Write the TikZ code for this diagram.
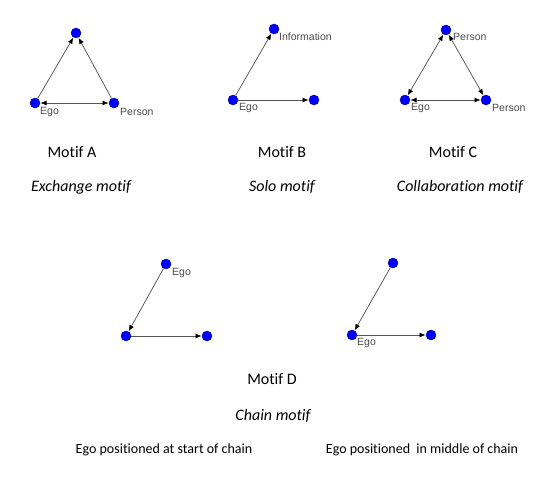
\documentclass[tikz,border=0pt]{standalone}
\usepackage{fontspec}
\setmainfont{Carlito}[Ligatures={NoCommon}]
\newfontfamily\lblfont{Liberation Sans}
\usetikzlibrary{arrows.meta}
\definecolor{nodeblue}{RGB}{0,0,255}
\definecolor{nodeedge}{RGB}{0,0,140}
\definecolor{edgegray}{RGB}{85,85,85}
\definecolor{lblgray}{RGB}{75,75,75}
\tikzset{
  tip/.style={Latex[length=6pt,width=5pt,black]},
  vtx/.style={circle,fill=nodeblue,draw=nodeedge,line width=0.4pt,minimum size=10pt,inner sep=0pt},
  lbl/.style={anchor=west,inner sep=0pt,font=\lblfont\fontsize{10.5}{12}\selectfont,text=lblgray},
  ed/.style={draw=edgegray,line width=0.75pt,-{Latex[length=6pt,width=5pt,black]},shorten >=0.3pt},
  bed/.style={draw=edgegray,line width=0.75pt,{Latex[length=6pt,width=5pt,black]}-{Latex[length=6pt,width=5pt,black]},shorten >=0.3pt,shorten <=0.3pt},
  mtitle/.style={inner sep=0pt,font=\fontsize{16}{19}\selectfont},
  msub/.style={inner sep=0pt,font=\fontsize{16}{19}\selectfont\itshape},
  mcapt/.style={inner sep=0pt,font=\fontsize{14}{17}\selectfont}
}
\begin{document}
\begin{tikzpicture}[x=1pt,y=-1pt]
\useasboundingbox (0,0) rectangle (553,486);
% Motif A
\node[vtx] (a1) at (76,33) {};
\node[vtx] (a2) at (35,103) {};
\node[vtx] (a3) at (114,103) {};
\draw[ed] (a2) -- (a1);
\draw[ed] (a3) -- (a1);
\draw[bed] (a2) -- (a3);
\node[lbl] (la2) at (40,112) {Ego};
\node[lbl] (la3) at (120,112) {Person};
\node[mtitle] (ta) at (72,152) {Motif A};
\node[msub] (sa) at (81,187) {Exchange motif};
% Motif B
\node[vtx] (b1) at (274,29) {};
\node[vtx] (b2) at (233,100) {};
\node[vtx] (b3) at (314,100) {};
\draw[ed] (b2) -- (b1);
\draw[ed] (b2) -- (b3);
\node[lbl] (lb1) at (279,37) {Information};
\node[lbl] (lb2) at (239,108) {Ego};
\node[mtitle] (tb) at (282,152) {Motif B};
\node[msub] (sb) at (282,187) {Solo motif};
% Motif C
\node[vtx] (c1) at (446,30) {};
\node[vtx] (c2) at (405,100) {};
\node[vtx] (c3) at (486,100) {};
\draw[bed] (c2) -- (c1);
\draw[bed] (c1) -- (c3);
\draw[bed] (c2) -- (c3);
\node[lbl] (lc1) at (453,37) {Person};
\node[lbl] (lc2) at (411,108) {Ego};
\node[lbl] (lc3) at (492,108) {Person};
\node[mtitle] (tc) at (453,152) {Motif C};
\node[msub] (sc) at (460,187) {Collaboration motif};
% Motif D left
\node[vtx] (d1) at (166,264) {};
\node[vtx] (d2) at (126,336) {};
\node[vtx] (d3) at (207,336) {};
\draw[ed] (d1) -- (d2);
\draw[ed] (d2) -- (d3);
\node[lbl] (ld1) at (172,273) {Ego};
% Motif D right
\node[vtx] (e1) at (393,263) {};
\node[vtx] (e2) at (352,335) {};
\node[vtx] (e3) at (431,335) {};
\draw[ed] (e1) -- (e2);
\draw[ed] (e2) -- (e3);
\node[lbl] (le2) at (357,343) {Ego};
\node[mtitle] (td) at (272,379) {Motif D};
\node[msub] (sd) at (273,416) {Chain motif};
\node[mcapt] (cd1) at (164,450) {Ego positioned at start of chain};
\node[mcapt] (cd2) at (422,450) {Ego positioned\ \ in middle of chain};
\end{tikzpicture}
\end{document}
